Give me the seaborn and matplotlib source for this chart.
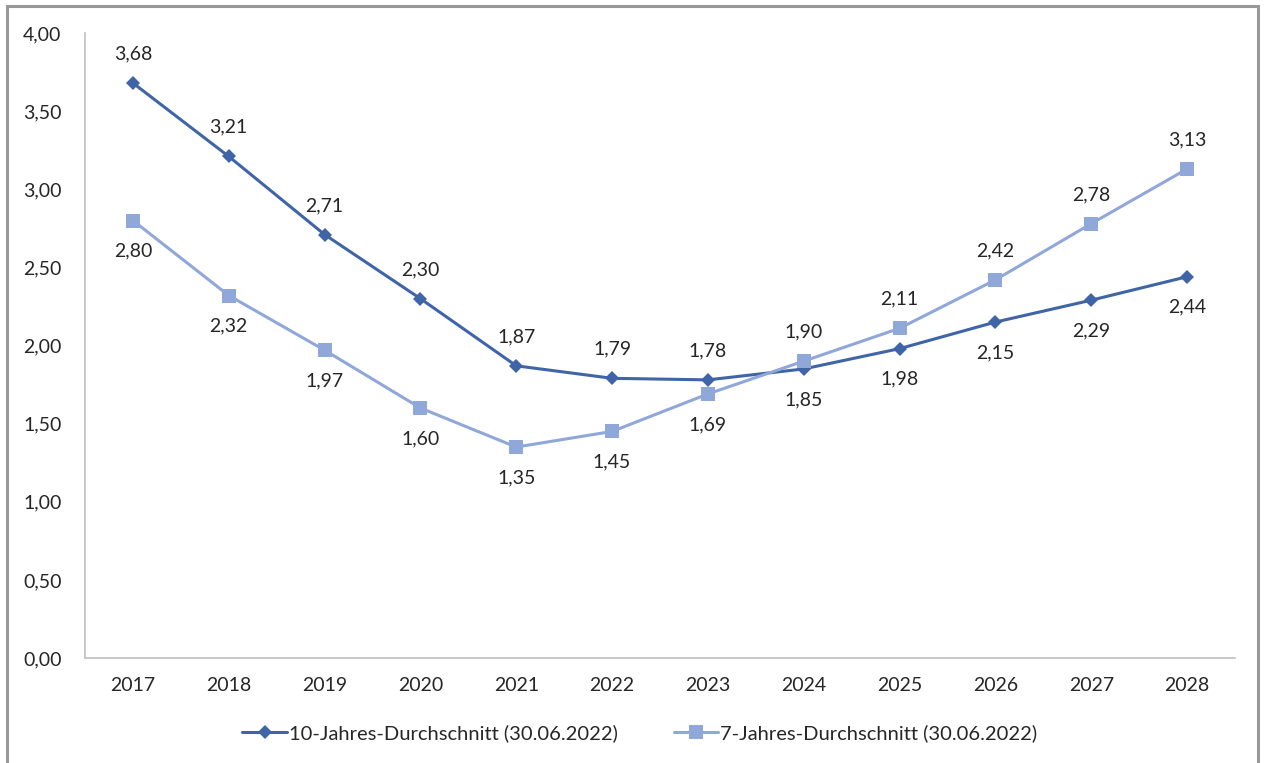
import matplotlib
matplotlib.use("Agg")
import matplotlib.pyplot as plt
import seaborn as sns
import pandas as pd
from matplotlib.patches import Rectangle

years = ["2017", "2018", "2019", "2020", "2021", "2022", "2023", "2024", "2025", "2026", "2027", "2028"]
ten_year = [3.68, 3.21, 2.71, 2.30, 1.87, 1.79, 1.78, 1.85, 1.98, 2.15, 2.29, 2.44]
seven_year = [2.80, 2.32, 1.97, 1.60, 1.35, 1.45, 1.69, 1.90, 2.11, 2.42, 2.78, 3.13]
series_names = ["10-Jahres-Durchschnitt (30.06.2022)", "7-Jahres-Durchschnitt (30.06.2022)"]
y_ticks = [0, 0.5, 1.0, 1.5, 2.0, 2.5, 3.0, 3.5, 4.0]

sns.set_theme(style="white")
plt.rcParams['font.family'] = ['Lato', 'DejaVu Sans']

c_dark = "#3F65A8"
c_light = "#8FA7D9"
txt = "#262626"

fig = plt.figure(figsize=(12.65, 7.63), dpi=100)
ax = fig.add_axes([85/1265, 1-658/763, (1235-85)/1265, (658-33)/763])

idx = list(range(len(years)))
df = pd.DataFrame({"x": idx * 2,
                   "y": ten_year + seven_year,
                   "s": [series_names[0]] * len(years) + [series_names[1]] * len(years)})

sns.lineplot(data=df, x="x", y="y", hue="s", style="s",
             palette={series_names[0]: c_dark, series_names[1]: c_light},
             markers={series_names[0]: "D", series_names[1]: "s"},
             dashes=False, linewidth=2.2, markeredgewidth=0, ax=ax)

for line in ax.get_lines():
    if line.get_marker() == "D":
        line.set_markersize(7.5)
    elif line.get_marker() == "s":
        line.set_markersize(10)

def fmt(v):
    return f"{v:.2f}".replace(".", ",")

for i, (a, b) in enumerate(zip(ten_year, seven_year)):
    up, down = (a, b) if a >= b else (b, a)
    ax.annotate(fmt(up), (i, up), xytext=(0, 21), textcoords="offset points",
                ha="center", va="center", fontsize=14, color=txt)
    ax.annotate(fmt(down), (i, down), xytext=(0, -22), textcoords="offset points",
                ha="center", va="center", fontsize=14, color=txt)

ax.set_xlim(-0.5, len(years) - 0.5)
ax.set_ylim(0, 4)
ax.set_xticks(idx)
ax.set_xticklabels(years)
ax.set_yticks(y_ticks)
ax.set_yticklabels([fmt(v) for v in y_ticks])
ax.tick_params(axis="both", length=0, labelsize=14, colors=txt)
ax.tick_params(axis="x", pad=14)
ax.tick_params(axis="y", pad=17)
ax.set_xlabel("")
ax.set_ylabel("")
for s in ["top", "right"]:
    ax.spines[s].set_visible(False)
for s in ["left", "bottom"]:
    ax.spines[s].set_color("#BFBFBF")
    ax.spines[s].set_linewidth(1.2)

handles, labels = ax.get_legend_handles_labels()
ax.legend(handles, labels, loc="center", bbox_to_anchor=(640/1265, (763-733)/763),
          bbox_transform=fig.transFigure, ncol=2, frameon=False, fontsize=14.5,
          handlelength=2.2, handletextpad=0.1, columnspacing=2.8,
          labelcolor=txt)

fig.patches.append(Rectangle((7/1265, -0.05), (1258-7)/1265, 1.05 - 6/763,
                             transform=fig.transFigure, fill=False,
                             edgecolor="#999999", linewidth=2.2))

fig.savefig("out.png", dpi=100, facecolor="white")
